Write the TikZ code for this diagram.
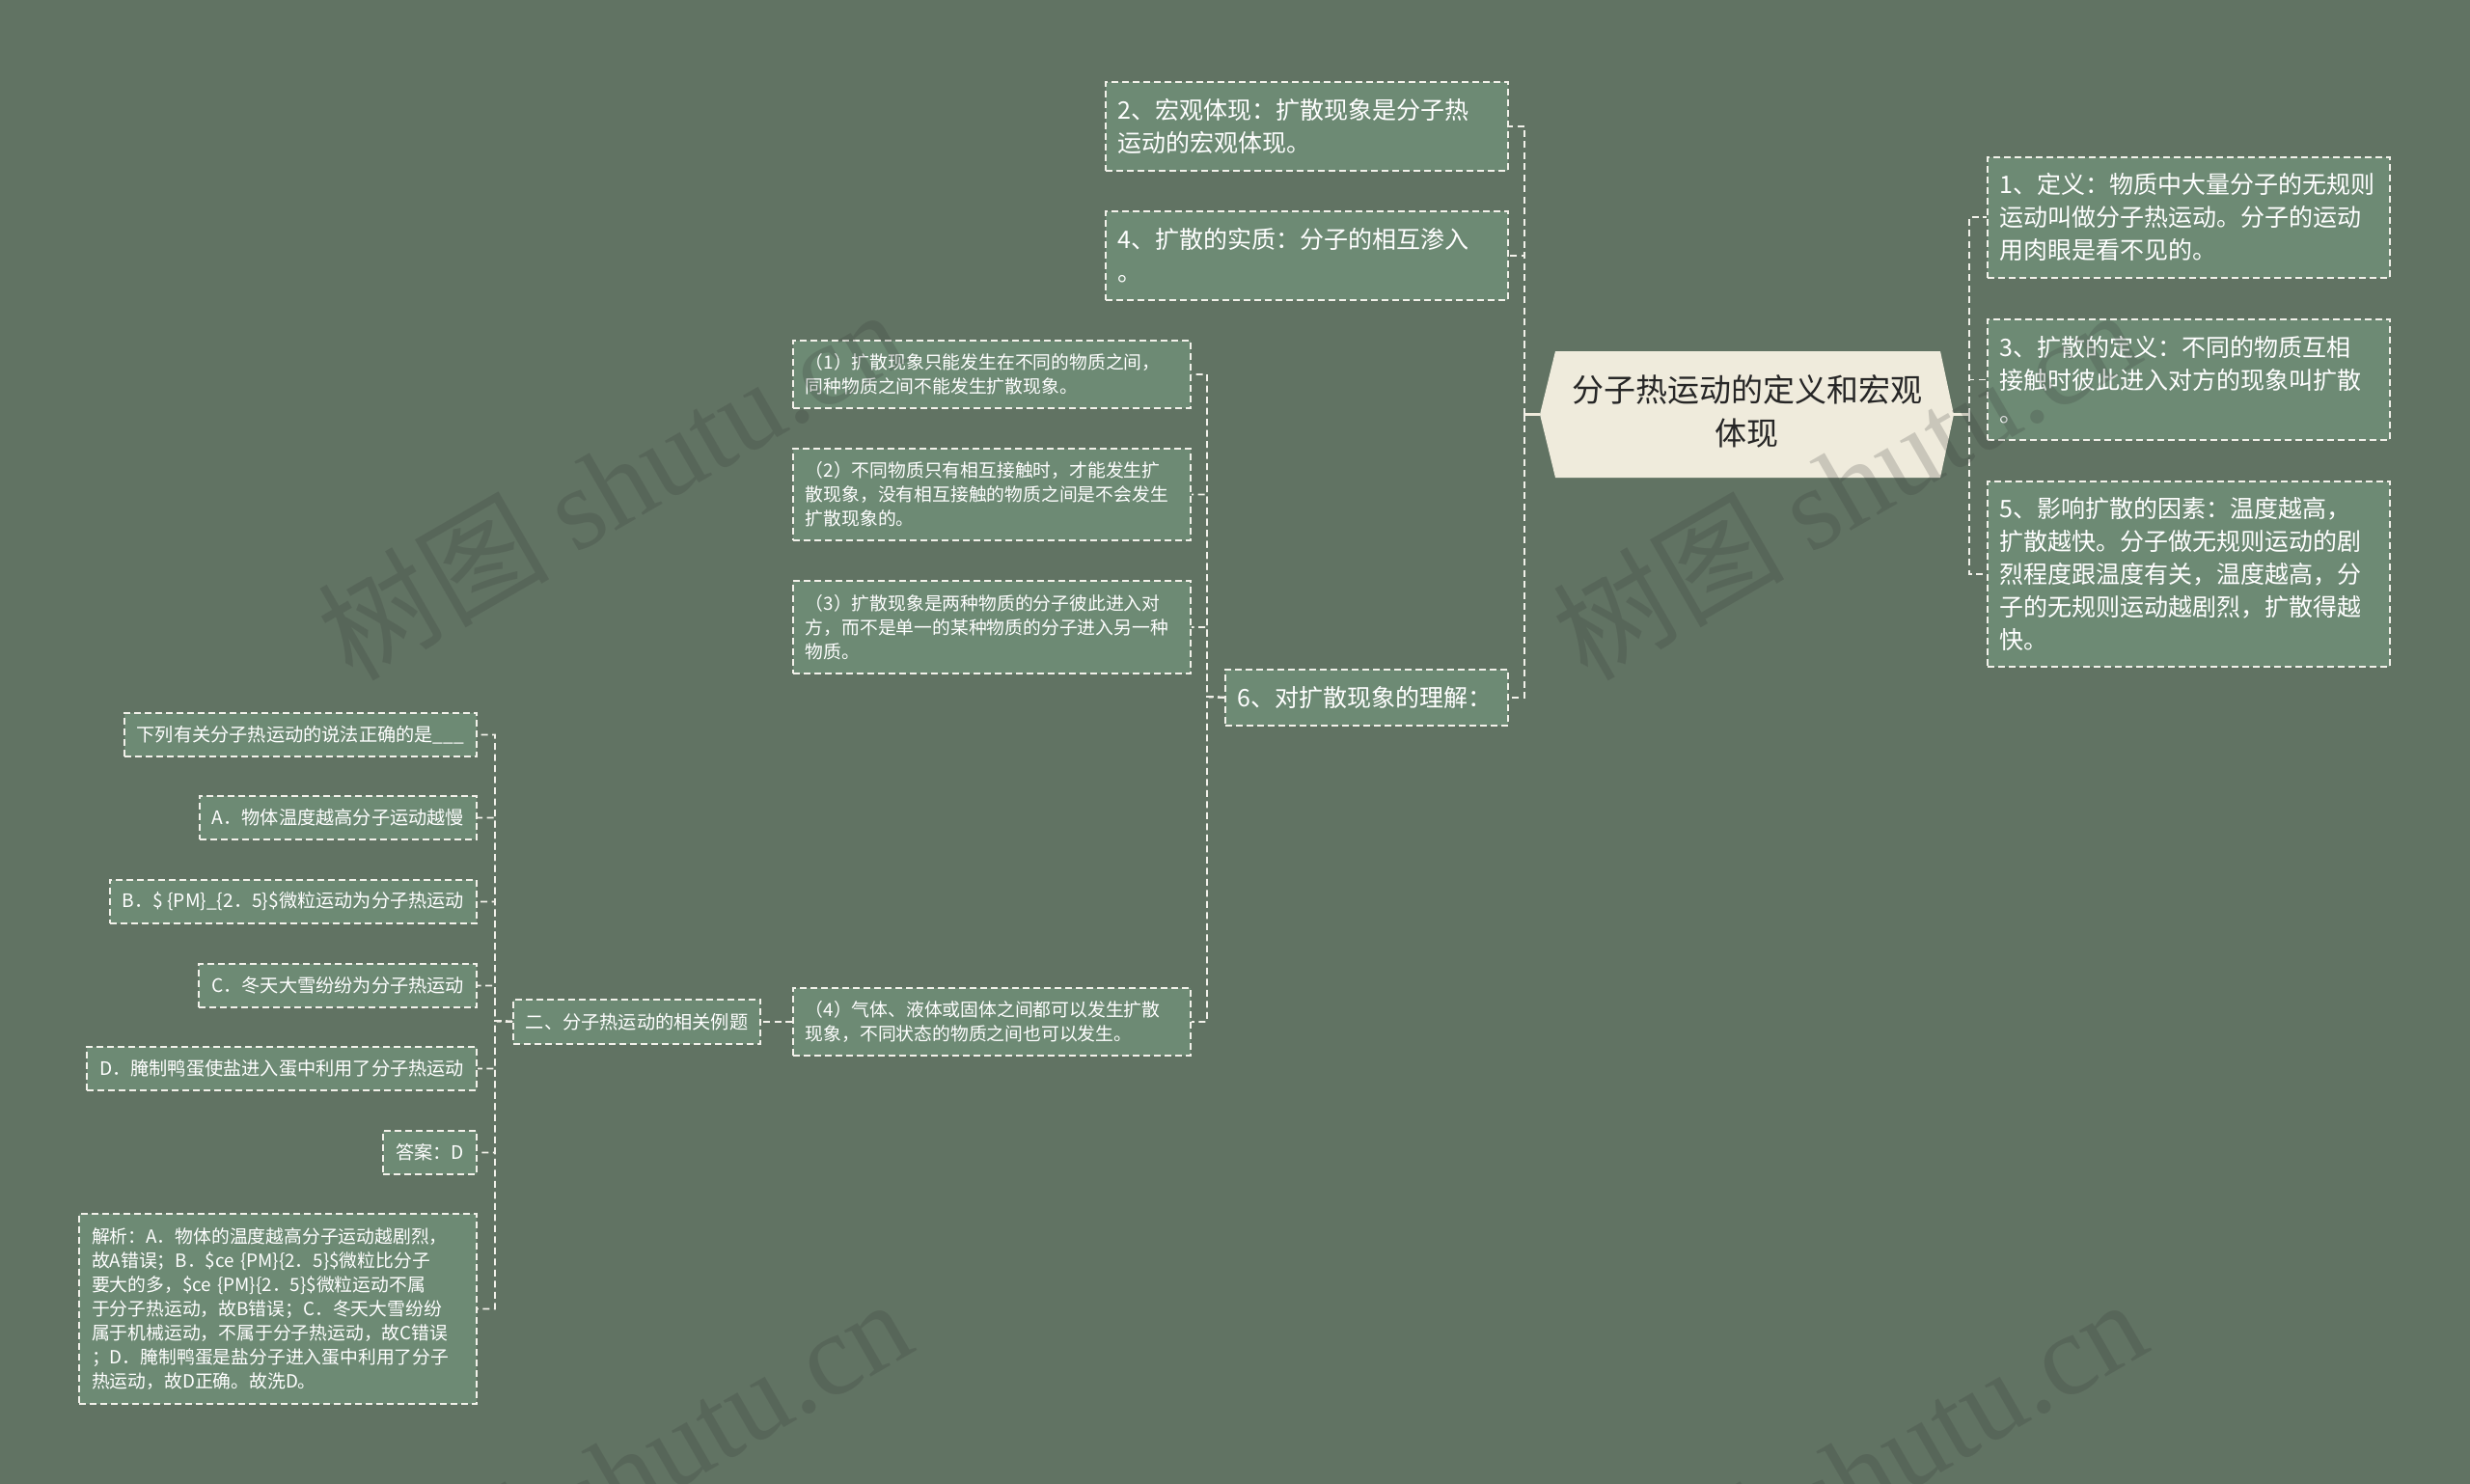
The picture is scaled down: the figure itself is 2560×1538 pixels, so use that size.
\documentclass[tikz,border=0pt]{standalone}
\usepackage{fontspec}
\setmainfont{Noto Sans CJK SC}
\newfontfamily\wmfont{Liberation Serif}
\definecolor{bgc}{HTML}{617363}
\definecolor{boxc}{HTML}{6D8A74}
\definecolor{lnc}{HTML}{F2F1EA}
\definecolor{creamc}{HTML}{EFEBDC}
\definecolor{ctxt}{HTML}{262626}
\begin{document}
\begin{tikzpicture}[x=1pt,y=-1pt,
  box/.style={draw=lnc, line width=1.8pt, dash pattern=on 7pt off 4pt, fill=boxc, text=white, inner xsep=13pt, inner ysep=2pt, align=left},
  big/.style={font=\fontsize{25}{34}\selectfont},
  small/.style={font=\fontsize{18.8}{25}\selectfont},
  exs/.style={font=\fontsize{19.2}{25}\selectfont},
  conn/.style={draw=lnc, line width=1.8pt, dash pattern=on 7pt off 4.5pt},
  stub/.style={draw=creamc, line width=2.5pt},
  wm/.style={text=black!80, text opacity=0.2, font=\fontsize{120}{120}\selectfont, anchor=base west, rotate=30, inner sep=0pt}]

\fill[bgc] (0,0) rectangle (2560,1538);
\useasboundingbox (0,0) rectangle (2560,1538);

% central topic
\fill[creamc] (1596,429.5) -- (1612,364) -- (2011,364) -- (2025,429.5) -- (2011,495) -- (1612,495) -- cycle;
\node[minimum width=429pt, minimum height=131pt, inner sep=0pt, text=ctxt, align=center, font=\fontsize{33}{45}\selectfont] (c) at (1810.5,426) {分子热运动的定义和宏观\\体现};

% right branches
\node[box,big,anchor=north west,text width=391pt,minimum height=125pt] (r1) at (2059,162) {1、定义：物质中大量分子的无规则\\运动叫做分子热运动。分子的运动\\用肉眼是看不见的。};
\node[box,big,anchor=north west,text width=391pt,minimum height=125pt] (r3) at (2059,330) {3、扩散的定义：不同的物质互相\\接触时彼此进入对方的现象叫扩散\\。};
\node[box,big,anchor=north west,text width=391pt,minimum height=192pt] (r5) at (2059,498) {5、影响扩散的因素：温度越高，\\扩散越快。分子做无规则运动的剧\\烈程度跟温度有关，温度越高，分\\子的无规则运动越剧烈，扩散得越\\快。};

% left branches
\node[box,big,anchor=north west,text width=391pt,minimum height=92pt] (l2) at (1145,84) {2、宏观体现：扩散现象是分子热\\运动的宏观体现。};
\node[box,big,anchor=north west,text width=391pt,minimum height=92pt] (l4) at (1145,218) {4、扩散的实质：分子的相互渗入\\。};
\node[box,big,anchor=north west,text width=267pt,minimum height=58pt] (l6) at (1269,693) {6、对扩散现象的理解：};

% children of 6
\node[box,small,anchor=north west,text width=386pt,minimum height=70pt] (s1) at (821,352) {（1）扩散现象只能发生在不同的物质之间，\\同种物质之间不能发生扩散现象。};
\node[box,small,anchor=north west,text width=386pt,minimum height=95pt] (s2) at (821,464) {（2）不同物质只有相互接触时，才能发生扩\\散现象，没有相互接触的物质之间是不会发生\\扩散现象的。};
\node[box,small,anchor=north west,text width=386pt,minimum height=96pt] (s3) at (821,601) {（3）扩散现象是两种物质的分子彼此进入对\\方，而不是单一的某种物质的分子进入另一种\\物质。};
\node[box,small,anchor=north west,text width=386pt,minimum height=70pt] (s4) at (821,1023) {（4）气体、液体或固体之间都可以发生扩散\\现象，不同状态的物质之间也可以发生。};

% examples
\node[box,exs,anchor=north west,minimum width=254pt,minimum height=46pt] (e2) at (531,1035) {二、分子热运动的相关例题};
\node[box,exs,anchor=north east,minimum height=45pt] (q) at (495,738) {下列有关分子热运动的说法正确的是\_\_\_};
\node[box,exs,anchor=north east,minimum height=45pt] (qa) at (495,824) {A．物体温度越高分子运动越慢};
\node[box,exs,anchor=north east,minimum height=45pt] (qb) at (495,911) {B．\$ \{PM\}\_\{2．5\}\$微粒运动为分子热运动};
\node[box,exs,anchor=north east,minimum height=45pt] (qc) at (495,998) {C．冬天大雪纷纷为分子热运动};
\node[box,exs,anchor=north east,minimum height=45pt] (qd) at (495,1084) {D．腌制鸭蛋使盐进入蛋中利用了分子热运动};
\node[box,exs,anchor=north east,minimum height=45pt] (ans) at (495,1171) {答案：D};
\node[box,small,anchor=north east,text width=386pt,minimum height=197pt] (jx) at (495,1257) {解析：A．物体的温度越高分子运动越剧烈，\\故A错误；B．\$ce \{PM\}\{2．5\}\$微粒比分子\\要大的多，\$ce \{PM\}\{2．5\}\$微粒运动不属\\于分子热运动，故B错误；C．冬天大雪纷纷\\属于机械运动，不属于分子热运动，故C错误\\；D．腌制鸭蛋是盐分子进入蛋中利用了分子\\热运动，故D正确。故洗D。};

% connectors
\coordinate (cl) at (1580,429.5);
\coordinate (cr) at (2041,429.5);
\coordinate (b6) at (1251,722);
\coordinate (b2) at (513,1058);

\draw[stub] (1596,429.5) -- (cl);
\draw[stub] (2025,429.5) -- (cr);
\draw[conn] (cl) |- (l2.east);
\draw[conn] (cl) |- (l4.east);
\draw[conn] (cl) |- (l6.east);
\draw[conn] (cr) |- (r1.west);
\draw[conn] (cr) |- (r3.west);
\draw[conn] (cr) |- (r5.west);

\draw[conn] (l6.west) -- (b6) |- (s1.east);
\draw[conn] (l6.west) -- (b6) |- (s2.east);
\draw[conn] (l6.west) -- (b6) |- (s3.east);
\draw[conn] (l6.west) -- (b6) |- (s4.east);

\draw[conn] (s4.west) -- (e2.east);

\draw[conn] (e2.west) -- (b2) |- (q.east);
\draw[conn] (e2.west) -- (b2) |- (qa.east);
\draw[conn] (e2.west) -- (b2) |- (qb.east);
\draw[conn] (e2.west) -- (b2) |- (qc.east);
\draw[conn] (e2.west) -- (b2) |- (qd.east);
\draw[conn] (e2.west) -- (b2) |- (ans.east);
\draw[conn] (e2.west) -- (b2) |- (jx.east);

% watermarks
\node[wm] (w1) at (365,708) {树图 {\wmfont shutu.cn}};
\node[wm] (w2) at (1645,708) {树图 {\wmfont shutu.cn}};
\node[wm] (w3) at (372,1734) {树图 {\wmfont shutu.cn}};
\node[wm] (w4) at (1652,1734) {树图 {\wmfont shutu.cn}};
\end{tikzpicture}
\end{document}
